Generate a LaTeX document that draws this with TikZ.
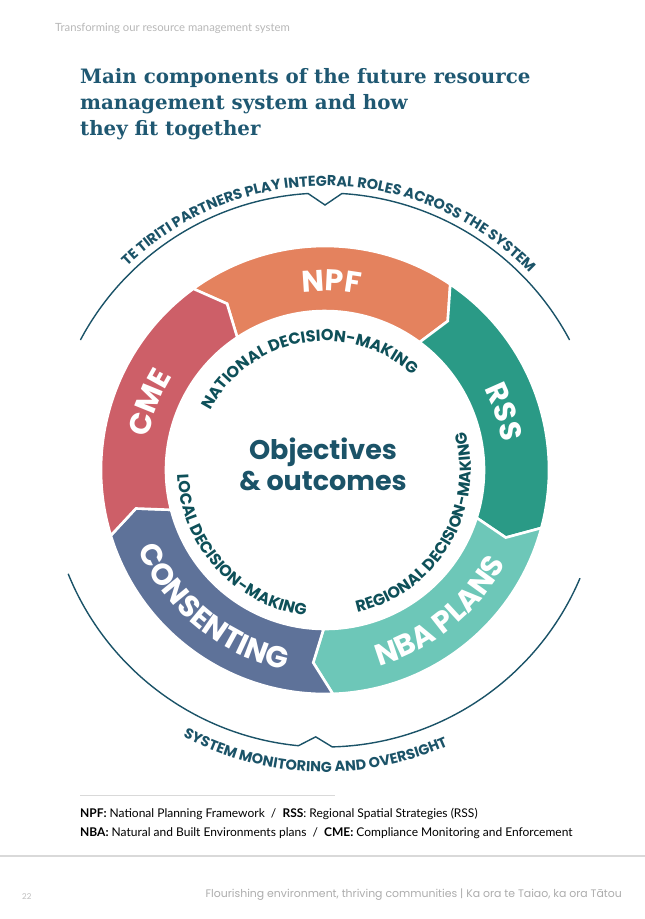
\documentclass[tikz,border=0pt]{standalone}
\usepackage{fontspec}
\setmainfont{Lato}
\newfontfamily\poppins{Poppins}
\newfontfamily\titleserif{DejaVu Serif}
\usetikzlibrary{decorations.text,positioning}
\definecolor{npfcol}{HTML}{E4825E}
\definecolor{rsscol}{HTML}{2A9A86}
\definecolor{nbacol}{HTML}{6DC7B8}
\definecolor{concol}{HTML}{5E7299}
\definecolor{cmecol}{HTML}{CD5F68}
\definecolor{deepteal}{HTML}{1B5368}
\definecolor{labteal}{HTML}{0E5059}
\definecolor{titleblue}{HTML}{1F5872}
\newcommand{\segfont}{\poppins\bfseries\fontsize{30}{30}\selectfont}
\newcommand{\ringfont}{\poppins\bfseries\fontsize{16}{16}\selectfont}
\newcommand{\rimfont}{\poppins\bfseries\fontsize{14.4}{14.4}\selectfont}

\begin{document}
\begin{tikzpicture}[x=1pt, y=1pt,
  seg/.style={fill=#1, draw=white, line width=2.6pt, line join=miter},
  rim/.style={draw=deepteal, line width=1.4pt},
  seglabel/.style={decorate, decoration={text along path, text align=center, text color=white, text={|\segfont|#1}}},
  inlabel/.style={decorate, decoration={text along path, text align=center, text color=labteal, text={|\ringfont|#1}}},
  rimlabel/.style={decorate, decoration={text along path, text align=center, text color=deepteal, text={|\rimfont|#1}}},
  plain/.style={inner sep=0pt, anchor=base west}]
\fill[white] (0,0) rectangle (645,-919);
\useasboundingbox (0,0) rectangle (645,-919);

% page header and title
\node[plain, font=\fontsize{11.3}{13}\selectfont, text=black!28] (header) at (55,-31) {Transforming our resource management system};
\node[inner sep=0pt, anchor=north west, align=left, text=titleblue,
  font=\titleserif\bfseries\fontsize{19.8}{26}\selectfont] (title) at (80,-68)
  {Main components of the future resource\\management system and how\\they fit together};

% the wheel
\begin{scope}[shift={(325,-470)}]
\foreach \a/\b/\c in {126/56/npfcol, 56/-15/rsscol, -15/-88/nbacol, -88/-163/concol, 197/126/cmecol}
  \draw[seg=\c] (\a:224pt) arc[start angle=\a, end angle=\b, radius=224pt]
    -- (\b-5.5:193pt) -- (\b-2.5:159pt) arc[start angle=\b-2.5, end angle=\a-2.5, radius=159pt]
    -- (\a-5.5:193pt) -- cycle;

\path[seglabel=NPF] (128:179pt) arc[start angle=128, end angle=48, radius=179pt];
\path[seglabel=RSS] (58:179pt) arc[start angle=58, end angle=-22, radius=179pt];
\path[seglabel=CME] (199:179pt) arc[start angle=199, end angle=119, radius=179pt];
\path[seglabel=CONSENTING] (186:203pt) arc[start angle=186, end angle=276, radius=203pt];
\path[seglabel=NBA PLANS] (-96:203pt) arc[start angle=-96, end angle=-6, radius=203pt];

\path[inlabel=NATIONAL DECISION-MAKING] (170:129pt) arc[start angle=170, end angle=30, radius=129pt];
\path[inlabel=REGIONAL DECISION-MAKING] (-103:146pt) arc[start angle=-103, end angle=41, radius=146pt];
\path[inlabel=LOCAL DECISION-MAKING] (150:147pt) arc[start angle=150, end angle=294, radius=147pt];

\node[align=center, text=deepteal, font=\poppins\bfseries\fontsize{27}{31}\selectfont] (goals) at (-2,6) {Objectives\\\& outcomes};

% outer brackets
\draw[rim] (152:277pt) arc[start angle=152, end angle=93.5, radius=277pt]
  -- (90:265pt) -- (86.5:277pt) arc[start angle=86.5, end angle=28, radius=277pt];
\draw[rim] (202:277pt) arc[start angle=202, end angle=264.5, radius=277pt]
  -- (268:267pt) -- (271.5:277pt) arc[start angle=271.5, end angle=337, radius=277pt];
\path[rimlabel=TE TIRITI PARTNERS PLAY INTEGRAL ROLES ACROSS THE SYSTEM] (165:284pt) arc[start angle=165, end angle=13, radius=284pt];
\path[rimlabel=SYSTEM MONITORING AND OVERSIGHT] (218:302pt) arc[start angle=218, end angle=318, radius=302pt];
\end{scope}

% legend
\draw[black!15, line width=1pt] (80,-795) -- (335,-795);
\node[plain, font=\fontsize{12}{19}\selectfont, align=left] (legend) at (80,-836.5)
  {\textbf{NPF:} National Planning Framework~~/~~\textbf{RSS}: Regional Spatial Strategies (RSS)\\
   \textbf{NBA:} Natural and Built Environments plans~~/~~\textbf{CME:} Compliance Monitoring and Enforcement};

% footer
\draw[black!15, line width=1.2pt] (0,-856) -- (645,-856);
\node[plain, font=\poppins\fontsize{8}{10}\selectfont, text=black!25] (pageno) at (22,-899) {22};
\node[inner sep=0pt, anchor=base east, font=\poppins\fontsize{10.9}{12}\selectfont, text=black!32] (motto) at (622,-897)
  {Flourishing environment, thriving communities | Ka ora te Taiao, ka ora Tātou};
\end{tikzpicture}
\end{document}
